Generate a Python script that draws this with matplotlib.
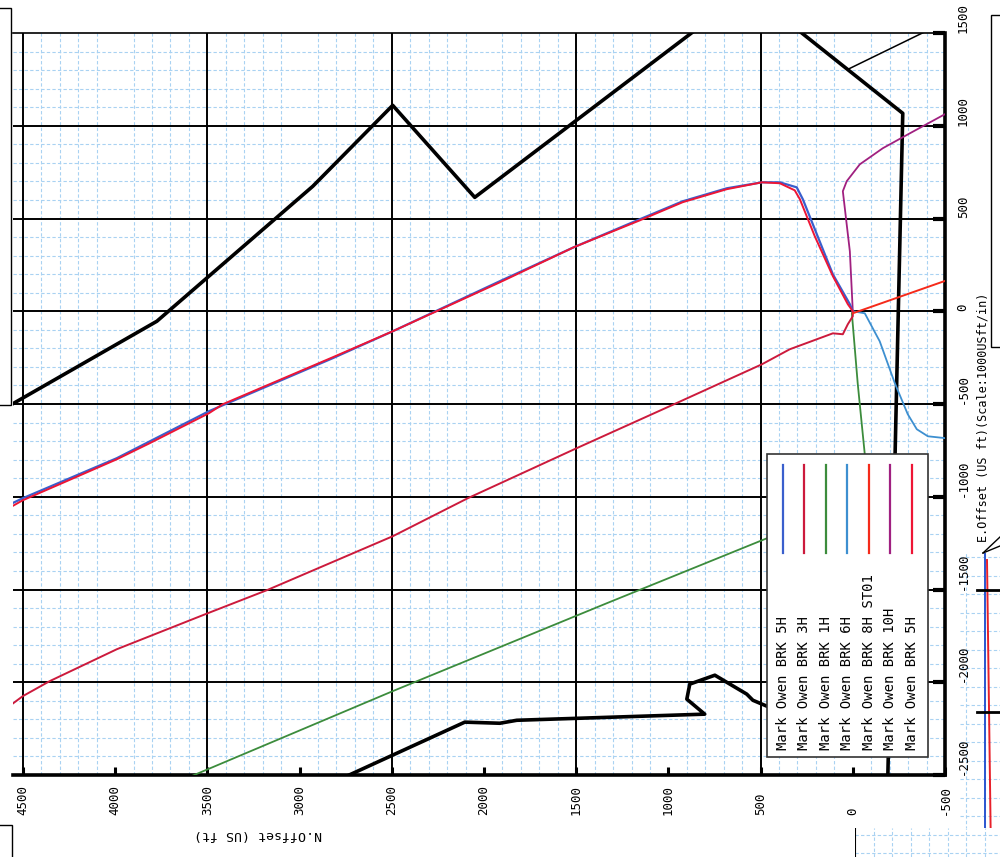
"""Plan view (rotated sheet) of the Mark Owen BRK wells with lease lines."""
import matplotlib
matplotlib.use("Agg")
import matplotlib.pyplot as plt
import numpy as np
from matplotlib.patches import Rectangle
from matplotlib.lines import Line2D

W, H = 1000, 857

# ---------------------------------------------------------------------------
# Well paths: (N offset, E offset) in US ft
# ---------------------------------------------------------------------------
n_5h_blue = [4626, 4501, 3991, 3492, 2820, 2495, 1914, 1513, 1155, 922, 683, 493, 396, 304, 271, 195, 108, 16, 0]
e_5h_blue = [-1067, -1008, -792, -539, -253, -108, 162, 345, 496, 593, 663, 695, 695, 668, 604, 415, 199, 38, 0]

n_5h_red = [4626, 4501, 4263, 3991, 3812, 3492, 3416, 2820, 2495, 1914, 1513, 1155, 922, 683, 493, 396, 315, 287, 206, 108, 27, 0]
e_5h_red = [-1089, -1019, -916, -798, -711, -550, -501, -248, -108, 156, 345, 490, 588, 658, 695, 690, 652, 604, 404, 189, 38, 0]

n_3h = [4626, 4501, 4355, 3991, 3498, 3178, 2495, 2088, 1497, 982, 493, 342, 108, 54, 27, 0, 0]
e_3h = [-2167, -2075, -1994, -1822, -1628, -1504, -1213, -1008, -738, -507, -286, -205, -119, -124, -70, -27, 0]

n_1h = [0, 5, -27, -65, -87, -49, 466, 1334, 2495, 3612, 3758]
e_1h = [0, -11, -393, -771, -970, -1019, -1224, -1574, -2048, -2517, -2576]

n_6h = [0, -65, -146, -228, -298, -347, -407, -510, -689]
e_6h = [0, -11, -162, -388, -555, -636, -674, -685, -690]

n_8h = [0, -510, -689]
e_8h = [-11, 167, 237]

n_10h = [0, 16, 54, 33, -38, -163, -309, -499, -689]
e_10h = [0, 323, 647, 701, 792, 879, 959, 1062, 1148]

# lease / unit lines (black)
n_lease_a = [4626, 3774, 2928, 2495, 2050, 884, 651]
e_lease_a = [-539, -54, 674, 1110, 614, 1493, 1671]

n_lease_b = [493, -271, -190, -184]
e_lease_b = [1671, 1067, -2506, -2641]

n_lease_c = [27, -363, -591]
e_lease_c = [1304, 1493, 1601]

n_lease_d = [2836, 2744, 2104, 1914, 1822, 803, 900, 884, 748, 575, 542, 466, 287]
e_lease_d = [-2549, -2506, -2215, -2221, -2205, -2172, -2091, -2010, -1962, -2064, -2097, -2129, -2221]

legend_labels = [
    "Mark Owen BRK 5H",
    "Mark Owen BRK 3H",
    "Mark Owen BRK 1H",
    "Mark Owen BRK 6H",
    "Mark Owen BRK 8H ST01",
    "Mark Owen BRK 10H",
    "Mark Owen BRK 5H",
]
legend_colors = ["#3a5fcd", "#cc1a3c", "#3c8c3c", "#3d8fd0", "#f52a1a", "#a02080", "#ee1535"]

n_ticks = np.arange(4500, -501, -500)
e_ticks = np.arange(1500, -2501, -500)

# strip of the neighbouring vertical-section sheet (pixel units of that panel)
vs_blue_x = [985, 985]
vs_blue_y = [550, 857]
vs_red_x = [987, 991]
vs_red_y = [560, 857]


def px_rect(x0, y0, x1, y1):
    """Pixel box (top-left origin) -> figure fraction rect."""
    return [x0 / W, 1 - y1 / H, (x1 - x0) / W, (y1 - y0) / H]


plt.rcParams["font.family"] = ["DejaVu Sans Mono"]

fig = plt.figure(figsize=(W / 100, H / 100), dpi=100)
fig.patch.set_facecolor("white")

# ---------------------------------------------------------------------------
# neighbouring sheet peeking in at the bottom right
# ---------------------------------------------------------------------------
for box in [(960, 553, 1000, 857), (855, 828, 1000, 857)]:
    axs = fig.add_axes(px_rect(*box), zorder=-1)
    axs.set_xticks(np.arange(873.5, 1000, 18.5))
    axs.set_yticks(np.arange(557, 857, 18.5))
    axs.set_xlim(box[0], box[2])
    axs.set_ylim(box[3], box[1])
    axs.grid(True, color="#a9d2f2", lw=0.8, ls=(0, (3, 2)))
    axs.tick_params(length=0, labelbottom=False, labelleft=False)
    for s in axs.spines.values():
        s.set_visible(False)
    if box[0] == 960:
        axs.plot(vs_blue_x, vs_blue_y, color="#2a55d0", lw=1.4)
        axs.plot(vs_red_x, vs_red_y, color="#e8202a", lw=1.4)
        for yy in [590, 712, 833]:
            axs.plot([977, 1000], [yy, yy], color="black", lw=2)
    else:
        axs.plot([855, 855], [828, 857], color="black", lw=1.5)

# ---------------------------------------------------------------------------
# main plan view
# ---------------------------------------------------------------------------
ax = fig.add_axes(px_rect(13, 33, 945, 775))
ax.set_facecolor("white")

ax.set_xticks(np.arange(-500, 4600, 100), minor=True)
ax.set_yticks(np.arange(-2500, 1501, 100), minor=True)
ax.grid(which="minor", color="#a9d2f2", lw=0.8, ls=(0, (3, 2)))
ax.set_xticks(n_ticks)
ax.set_yticks(e_ticks)
ax.set_xlim(4554, -500)
ax.set_ylim(-2500, 1500)
ax.tick_params(which="minor", length=0)
ax.tick_params(axis="x", which="major", direction="in", length=6, width=2.2,
               bottom=True, top=False, labelbottom=False)
ax.tick_params(axis="y", which="major", direction="in", length=9, width=3,
               left=False, right=True, labelleft=False, labelright=False)

for n in np.arange(4500, -500, -1000):
    ax.axvline(n, color="black", lw=1.4, zorder=2)
for e in e_ticks[1:-1]:
    ax.axhline(e, color="black", lw=1.4, zorder=2)

ax.spines["left"].set_visible(False)
ax.spines["top"].set_linewidth(1.2)
ax.spines["bottom"].set_linewidth(2.6)
ax.spines["right"].set_linewidth(2.6)

# lease lines
ax.plot(n_lease_a, e_lease_a, color="black", lw=2.6, zorder=3)
ax.plot(n_lease_b, e_lease_b, color="black", lw=2.6, zorder=3)
ax.plot(n_lease_c, e_lease_c, color="black", lw=1.1, zorder=3)
ax.plot(n_lease_d, e_lease_d, color="black", lw=2.6, zorder=3)

# wells
ax.plot(n_1h, e_1h, color=legend_colors[2], lw=1.3, zorder=4)
ax.plot(n_3h, e_3h, color=legend_colors[1], lw=1.4, zorder=4)
ax.plot(n_6h, e_6h, color=legend_colors[3], lw=1.3, zorder=4)
ax.plot(n_10h, e_10h, color=legend_colors[5], lw=1.3, zorder=4)
ax.plot(n_5h_blue, e_5h_blue, color=legend_colors[0], lw=1.6, zorder=4)
ax.plot(n_5h_red, e_5h_red, color=legend_colors[6], lw=1.4, zorder=5)
ax.plot(n_8h, e_8h, color=legend_colors[4], lw=1.4, zorder=5)

# tick labels (sheet is rotated, so text runs bottom-to-top)
for n in n_ticks:
    ax.text(n, -0.054, f"{n}", transform=ax.get_xaxis_transform(), rotation=90,
            ha="center", va="bottom", fontsize=9, clip_on=False)
for e in e_ticks:
    ax.text(1.0195, e, f"{e}", transform=ax.get_yaxis_transform(), rotation=90,
            ha="center", va="bottom", fontsize=9, clip_on=False)

fig.text(258 / W, 1 - 834 / H, "N.Offset (US ft)", rotation=180,
         ha="center", va="center", fontsize=9.5)
fig.text(983 / W, 1 - 542 / H, "E.Offset (US ft)(Scale:1000USft/in)", rotation=90,
         ha="center", va="bottom", fontsize=8.5)

# legend, laid out in columns to follow the rotated sheet
lx0, lx1, ly0, ly1 = 0.809, 0.982, 0.0243, 0.4326
ax.add_patch(Rectangle((lx0, ly0), lx1 - lx0, ly1 - ly0, transform=ax.transAxes,
                       facecolor="white", edgecolor="#333333", lw=1.2, zorder=10))
for i, (lab, col) in enumerate(zip(legend_labels, legend_colors)):
    cx = 0.826 + i * 0.02307
    ax.add_line(Line2D([cx, cx], [0.4178, 0.2992], transform=ax.transAxes,
                       color=col, lw=1.6, zorder=11))
    ax.text(cx, 0.0337, lab, transform=ax.transAxes, rotation=90, ha="center",
            va="bottom", fontsize=10, zorder=11)

# clipped text boxes of the neighbouring sheet
for x0, y0, x1, y1 in [(-5, 8, 11, 405), (-5, 825, 12, 870), (991, 15, 1010, 347)]:
    fig.add_artist(Rectangle((x0 / W, 1 - y1 / H), (x1 - x0) / W, (y1 - y0) / H,
                             transform=fig.transFigure, facecolor="white",
                             edgecolor="black", lw=1.0, zorder=20))
fig.add_artist(Line2D([983 / W, 1.0], [1 - 553 / H, 1 - 537 / H],
                      transform=fig.transFigure, color="black", lw=1.0))
fig.add_artist(Line2D([983 / W, 1.0], [1 - 553 / H, 1 - 546 / H],
                      transform=fig.transFigure, color="black", lw=1.0))

fig.savefig("out.png", dpi=100)
